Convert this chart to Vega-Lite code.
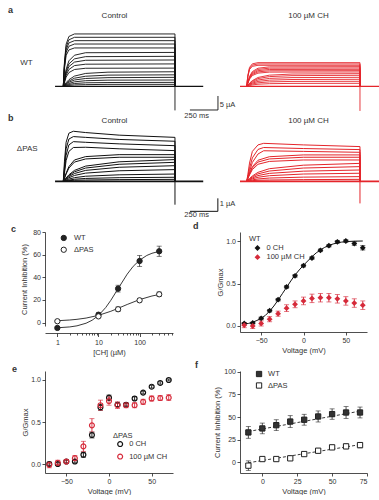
{
"$schema": "https://vega.github.io/schema/vega-lite/v6.json",
"padding": {"left": 8, "top": 5, "right": 0, "bottom": 0},
"background": "white",
"columns": 2,
"spacing": {"row": 0, "column": 67},
"align": {"row": "each", "column": "none"},
"bounds": "flush",
"resolve": {"scale": {"color": "independent", "fill": "independent", "stroke": "independent"}, "legend": {"color": "independent", "fill": "independent", "stroke": "independent"}},
"config": {
 "font": "Liberation Sans",
 "view": {"stroke": null},
 "axis": {"grid": false, "labelFontSize": 7, "titleFontSize": 7.5, "titleFontWeight": "normal", "labelColor": "#333", "titleColor": "#333", "domainColor": "#222", "tickColor": "#222", "tickSize": 3, "labelPadding": 1.5, "titlePadding": 2, "domainWidth": 0.8, "tickWidth": 0.8},
 "legend": {"labelFontSize": 7.5, "titleFontSize": 7.5, "titleFontWeight": "normal", "labelColor": "#333", "titleColor": "#333", "padding": 0},
 "title": {"fontSize": 9, "fontWeight": "bold", "anchor": "start", "frame": "group", "offset": 0, "color": "#333"}
},
"datasets": {
 "bk": [{"t":-74,"v":0},{"t":1253,"v":0}],
 "br": [{"t":-59,"v":0},{"t":1238,"v":0}],
 "ta": [
{"s":"k1","t":0,"v":0},{"s":"k1","t":10,"v":8.4},{"s":"k1","t":25,"v":15},{"s":"k1","t":50,"v":17.8},{"s":"k1","t":100,"v":18.7},{"s":"k1","t":1000,"v":18.7},{"s":"k1","t":1001,"v":0},
{"s":"k2","t":0,"v":0},{"s":"k2","t":10,"v":7.9},{"s":"k2","t":25,"v":14},{"s":"k2","t":50,"v":16.6},{"s":"k2","t":100,"v":17.5},{"s":"k2","t":1000,"v":17.5},{"s":"k2","t":1001,"v":0},
{"s":"k3","t":0,"v":0},{"s":"k3","t":10,"v":7.3},{"s":"k3","t":25,"v":13},{"s":"k3","t":50,"v":15.5},{"s":"k3","t":100,"v":16.3},{"s":"k3","t":1000,"v":16.3},{"s":"k3","t":1001,"v":0},
{"s":"k4","t":0,"v":0},{"s":"k4","t":10,"v":6.8},{"s":"k4","t":25,"v":12.1},{"s":"k4","t":50,"v":14.3},{"s":"k4","t":100,"v":15.1},{"s":"k4","t":1000,"v":15.1},{"s":"k4","t":1001,"v":0},
{"s":"k5","t":0,"v":0},{"s":"k5","t":10,"v":6.2},{"s":"k5","t":25,"v":11},{"s":"k5","t":50,"v":13},{"s":"k5","t":100,"v":13.7},{"s":"k5","t":1000,"v":13.7},{"s":"k5","t":1001,"v":0},
{"s":"k6","t":0,"v":0},{"s":"k6","t":10,"v":2.4},{"s":"k6","t":25,"v":6.05},{"s":"k6","t":50,"v":9.1},{"s":"k6","t":100,"v":11.1},{"s":"k6","t":200,"v":12},{"s":"k6","t":1000,"v":12.1},{"s":"k6","t":1001,"v":0},
{"s":"k7","t":0,"v":0},{"s":"k7","t":10,"v":2.1},{"s":"k7","t":25,"v":5.35},{"s":"k7","t":50,"v":8},{"s":"k7","t":100,"v":9.8},{"s":"k7","t":200,"v":10.6},{"s":"k7","t":1000,"v":10.7},{"s":"k7","t":1001,"v":0},
{"s":"k8","t":0,"v":0},{"s":"k8","t":10,"v":1.9},{"s":"k8","t":25,"v":4.7},{"s":"k8","t":50,"v":7.05},{"s":"k8","t":100,"v":8.65},{"s":"k8","t":200,"v":9.3},{"s":"k8","t":1000,"v":9.4},{"s":"k8","t":1001,"v":0},
{"s":"k9","t":0,"v":0},{"s":"k9","t":10,"v":1.6},{"s":"k9","t":25,"v":4},{"s":"k9","t":50,"v":6},{"s":"k9","t":100,"v":7.4},{"s":"k9","t":200,"v":7.9},{"s":"k9","t":1000,"v":8},{"s":"k9","t":1001,"v":0},
{"s":"k10","t":0,"v":0},{"s":"k10","t":10,"v":1.3},{"s":"k10","t":25,"v":3.25},{"s":"k10","t":50,"v":4.9},{"s":"k10","t":100,"v":6},{"s":"k10","t":200,"v":6.45},{"s":"k10","t":1000,"v":6.5},{"s":"k10","t":1001,"v":0},
{"s":"k11","t":0,"v":0},{"s":"k11","t":25,"v":1.3},{"s":"k11","t":50,"v":2.35},{"s":"k11","t":100,"v":3.65},{"s":"k11","t":200,"v":4.6},{"s":"k11","t":400,"v":5.05},{"s":"k11","t":1000,"v":5.2},{"s":"k11","t":1001,"v":0},
{"s":"k12","t":0,"v":0},{"s":"k12","t":25,"v":1},{"s":"k12","t":50,"v":1.85},{"s":"k12","t":100,"v":2.9},{"s":"k12","t":200,"v":3.6},{"s":"k12","t":400,"v":4},{"s":"k12","t":1000,"v":4.1},{"s":"k12","t":1001,"v":0},
{"s":"k13","t":0,"v":0},{"s":"k13","t":25,"v":0.8},{"s":"k13","t":50,"v":1.45},{"s":"k13","t":100,"v":2.25},{"s":"k13","t":200,"v":2.8},{"s":"k13","t":400,"v":3.1},{"s":"k13","t":1000,"v":3.2},{"s":"k13","t":1001,"v":0},
{"s":"k14","t":0,"v":0},{"s":"k14","t":25,"v":0.55},{"s":"k14","t":50,"v":1},{"s":"k14","t":100,"v":1.6},{"s":"k14","t":200,"v":2},{"s":"k14","t":400,"v":2.2},{"s":"k14","t":1000,"v":2.25},{"s":"k14","t":1001,"v":0},
{"s":"k15","t":0,"v":0},{"s":"k15","t":25,"v":0.35},{"s":"k15","t":50,"v":0.65},{"s":"k15","t":100,"v":1},{"s":"k15","t":200,"v":1.25},{"s":"k15","t":400,"v":1.35},{"s":"k15","t":1000,"v":1.4},{"s":"k15","t":1001,"v":0},
{"s":"k16","t":0,"v":0},{"s":"k16","t":25,"v":0.2},{"s":"k16","t":50,"v":0.3},{"s":"k16","t":100,"v":0.5},{"s":"k16","t":200,"v":0.6},{"s":"k16","t":400,"v":0.7},{"s":"k16","t":1000,"v":0.7},{"s":"k16","t":1001,"v":0}
 ],
 "tar": [
{"s":"r1","t":0,"v":0},{"s":"r1","t":10,"v":3.8},{"s":"r1","t":25,"v":6.76},{"s":"r1","t":50,"v":8.03},{"s":"r1","t":100,"v":8.45},{"s":"r1","t":1000,"v":8.45},{"s":"r1","t":1001,"v":0},
{"s":"r2","t":0,"v":0},{"s":"r2","t":10,"v":3.59},{"s":"r2","t":25,"v":6.38},{"s":"r2","t":50,"v":7.58},{"s":"r2","t":100,"v":7.98},{"s":"r2","t":1000,"v":7.98},{"s":"r2","t":1001,"v":0},
{"s":"r3","t":0,"v":0},{"s":"r3","t":10,"v":3.38},{"s":"r3","t":25,"v":6},{"s":"r3","t":50,"v":7.13},{"s":"r3","t":100,"v":7.5},{"s":"r3","t":1000,"v":7.5},{"s":"r3","t":1001,"v":0},
{"s":"r4","t":0,"v":0},{"s":"r4","t":10,"v":1.4},{"s":"r4","t":25,"v":3.51},{"s":"r4","t":50,"v":5.27},{"s":"r4","t":100,"v":6.46},{"s":"r4","t":200,"v":6.95},{"s":"r4","t":1000,"v":7.02},{"s":"r4","t":1001,"v":0},
{"s":"r5","t":0,"v":0},{"s":"r5","t":10,"v":1.31},{"s":"r5","t":25,"v":3.28},{"s":"r5","t":50,"v":4.91},{"s":"r5","t":100,"v":6.03},{"s":"r5","t":200,"v":6.48},{"s":"r5","t":1000,"v":6.55},{"s":"r5","t":1001,"v":0},
{"s":"r6","t":0,"v":0},{"s":"r6","t":10,"v":1.21},{"s":"r6","t":25,"v":3.04},{"s":"r6","t":50,"v":4.55},{"s":"r6","t":100,"v":5.58},{"s":"r6","t":200,"v":6.01},{"s":"r6","t":1000,"v":6.07},{"s":"r6","t":1001,"v":0},
{"s":"r7","t":0,"v":0},{"s":"r7","t":10,"v":1.12},{"s":"r7","t":25,"v":2.8},{"s":"r7","t":50,"v":4.2},{"s":"r7","t":100,"v":5.15},{"s":"r7","t":200,"v":5.54},{"s":"r7","t":1000,"v":5.6},{"s":"r7","t":1001,"v":0},
{"s":"r8","t":0,"v":0},{"s":"r8","t":10,"v":1.02},{"s":"r8","t":25,"v":2.56},{"s":"r8","t":50,"v":3.84},{"s":"r8","t":100,"v":4.71},{"s":"r8","t":200,"v":5.07},{"s":"r8","t":1000,"v":5.12},{"s":"r8","t":1001,"v":0},
{"s":"r9","t":0,"v":0},{"s":"r9","t":25,"v":1.13},{"s":"r9","t":50,"v":2.03},{"s":"r9","t":100,"v":3.16},{"s":"r9","t":200,"v":3.98},{"s":"r9","t":400,"v":4.38},{"s":"r9","t":1000,"v":4.52},{"s":"r9","t":1001,"v":0},
{"s":"r10","t":0,"v":0},{"s":"r10","t":25,"v":0.98},{"s":"r10","t":50,"v":1.77},{"s":"r10","t":100,"v":2.75},{"s":"r10","t":200,"v":3.46},{"s":"r10","t":400,"v":3.81},{"s":"r10","t":1000,"v":3.93},{"s":"r10","t":1001,"v":0},
{"s":"r11","t":0,"v":0},{"s":"r11","t":25,"v":0.8},{"s":"r11","t":50,"v":1.44},{"s":"r11","t":100,"v":2.25},{"s":"r11","t":200,"v":2.82},{"s":"r11","t":400,"v":3.11},{"s":"r11","t":1000,"v":3.21},{"s":"r11","t":1001,"v":0},
{"s":"r12","t":0,"v":0},{"s":"r12","t":25,"v":0.63},{"s":"r12","t":50,"v":1.13},{"s":"r12","t":100,"v":1.75},{"s":"r12","t":200,"v":2.2},{"s":"r12","t":400,"v":2.43},{"s":"r12","t":1000,"v":2.5},{"s":"r12","t":1001,"v":0},
{"s":"r13","t":0,"v":0},{"s":"r13","t":25,"v":0.45},{"s":"r13","t":50,"v":0.81},{"s":"r13","t":100,"v":1.25},{"s":"r13","t":200,"v":1.58},{"s":"r13","t":400,"v":1.74},{"s":"r13","t":1000,"v":1.79},{"s":"r13","t":1001,"v":0},
{"s":"r14","t":0,"v":0},{"s":"r14","t":25,"v":0.27},{"s":"r14","t":50,"v":0.48},{"s":"r14","t":100,"v":0.75},{"s":"r14","t":200,"v":0.94},{"s":"r14","t":400,"v":1.04},{"s":"r14","t":1000,"v":1.07},{"s":"r14","t":1001,"v":0}
 ],
 "tb": [
{"s":"b1","t":0,"v":0},{"s":"b1","t":10,"v":1.5},{"s":"b1","t":25,"v":3},{"s":"b1","t":50,"v":3.7},{"s":"b1","t":90,"v":3.85},{"s":"b1","t":200,"v":3.75},{"s":"b1","t":500,"v":3.55},{"s":"b1","t":1000,"v":3.38},{"s":"b1","t":1001,"v":0},
{"s":"b2","t":0,"v":0},{"s":"b2","t":10,"v":1.1},{"s":"b2","t":25,"v":2.5},{"s":"b2","t":50,"v":3.25},{"s":"b2","t":90,"v":3.44},{"s":"b2","t":200,"v":3.38},{"s":"b2","t":500,"v":3.22},{"s":"b2","t":1000,"v":3.08},{"s":"b2","t":1001,"v":0},
{"s":"b3","t":0,"v":0},{"s":"b3","t":10,"v":0.8},{"s":"b3","t":25,"v":2},{"s":"b3","t":50,"v":2.8},{"s":"b3","t":90,"v":3.05},{"s":"b3","t":200,"v":3},{"s":"b3","t":500,"v":2.88},{"s":"b3","t":1000,"v":2.74},{"s":"b3","t":1001,"v":0},
{"s":"b4","t":0,"v":0},{"s":"b4","t":10,"v":0.6},{"s":"b4","t":25,"v":1.6},{"s":"b4","t":50,"v":2.3},{"s":"b4","t":90,"v":2.6},{"s":"b4","t":200,"v":2.62},{"s":"b4","t":500,"v":2.5},{"s":"b4","t":1000,"v":2.36},{"s":"b4","t":1001,"v":0},
{"s":"b5","t":0,"v":0},{"s":"b5","t":25,"v":0.62},{"s":"b5","t":50,"v":1.13},{"s":"b5","t":100,"v":1.64},{"s":"b5","t":200,"v":1.9},{"s":"b5","t":500,"v":2.05},{"s":"b5","t":1000,"v":2.05},{"s":"b5","t":1001,"v":0},
{"s":"b6","t":0,"v":0},{"s":"b6","t":25,"v":0.56},{"s":"b6","t":50,"v":1.02},{"s":"b6","t":100,"v":1.48},{"s":"b6","t":200,"v":1.72},{"s":"b6","t":500,"v":1.85},{"s":"b6","t":1000,"v":1.85},{"s":"b6","t":1001,"v":0},
{"s":"b7","t":0,"v":0},{"s":"b7","t":25,"v":0.25},{"s":"b7","t":50,"v":0.5},{"s":"b7","t":100,"v":0.84},{"s":"b7","t":200,"v":1.17},{"s":"b7","t":500,"v":1.5},{"s":"b7","t":1000,"v":1.67},{"s":"b7","t":1001,"v":0},
{"s":"b8","t":0,"v":0},{"s":"b8","t":25,"v":0.22},{"s":"b8","t":50,"v":0.44},{"s":"b8","t":100,"v":0.73},{"s":"b8","t":200,"v":1.02},{"s":"b8","t":500,"v":1.31},{"s":"b8","t":1000,"v":1.46},{"s":"b8","t":1001,"v":0},
{"s":"b9","t":0,"v":0},{"s":"b9","t":25,"v":0.18},{"s":"b9","t":50,"v":0.36},{"s":"b9","t":100,"v":0.6},{"s":"b9","t":200,"v":0.84},{"s":"b9","t":500,"v":1.08},{"s":"b9","t":1000,"v":1.2},{"s":"b9","t":1001,"v":0},
{"s":"b10","t":0,"v":0},{"s":"b10","t":25,"v":0.14},{"s":"b10","t":50,"v":0.27},{"s":"b10","t":100,"v":0.45},{"s":"b10","t":200,"v":0.63},{"s":"b10","t":500,"v":0.81},{"s":"b10","t":1000,"v":0.9},{"s":"b10","t":1001,"v":0},
{"s":"b11","t":0,"v":0},{"s":"b11","t":25,"v":0.08},{"s":"b11","t":50,"v":0.17},{"s":"b11","t":100,"v":0.28},{"s":"b11","t":200,"v":0.39},{"s":"b11","t":500,"v":0.5},{"s":"b11","t":1000,"v":0.56},{"s":"b11","t":1001,"v":0},
{"s":"b12","t":0,"v":0},{"s":"b12","t":25,"v":0.05},{"s":"b12","t":50,"v":0.09},{"s":"b12","t":100,"v":0.16},{"s":"b12","t":200,"v":0.22},{"s":"b12","t":500,"v":0.28},{"s":"b12","t":1000,"v":0.31},{"s":"b12","t":1001,"v":0},
{"s":"b13","t":0,"v":0},{"s":"b13","t":25,"v":0.02},{"s":"b13","t":50,"v":0.05},{"s":"b13","t":100,"v":0.08},{"s":"b13","t":200,"v":0.1},{"s":"b13","t":500,"v":0.13},{"s":"b13","t":1000,"v":0.15},{"s":"b13","t":1001,"v":0}
 ],
 "tbr": [
{"s":"q1","t":0,"v":0},{"s":"q1","t":10,"v":0.5},{"s":"q1","t":25,"v":1.4},{"s":"q1","t":50,"v":2.3},{"s":"q1","t":100,"v":2.8},{"s":"q1","t":150,"v":2.92},{"s":"q1","t":500,"v":2.8},{"s":"q1","t":1000,"v":2.67},{"s":"q1","t":1001,"v":0},
{"s":"q2","t":0,"v":0},{"s":"q2","t":10,"v":0.35},{"s":"q2","t":25,"v":1},{"s":"q2","t":50,"v":1.8},{"s":"q2","t":100,"v":2.45},{"s":"q2","t":150,"v":2.6},{"s":"q2","t":500,"v":2.52},{"s":"q2","t":1000,"v":2.44},{"s":"q2","t":1001,"v":0},
{"s":"q3","t":0,"v":0},{"s":"q3","t":10,"v":0.25},{"s":"q3","t":25,"v":0.75},{"s":"q3","t":50,"v":1.45},{"s":"q3","t":100,"v":2.1},{"s":"q3","t":150,"v":2.35},{"s":"q3","t":500,"v":2.3},{"s":"q3","t":1000,"v":2.23},{"s":"q3","t":1001,"v":0},
{"s":"q4","t":0,"v":0},{"s":"q4","t":25,"v":0.61},{"s":"q4","t":50,"v":1.12},{"s":"q4","t":100,"v":1.62},{"s":"q4","t":200,"v":1.89},{"s":"q4","t":500,"v":2.03},{"s":"q4","t":1000,"v":2.03},{"s":"q4","t":1001,"v":0},
{"s":"q5","t":0,"v":0},{"s":"q5","t":25,"v":0.56},{"s":"q5","t":50,"v":1.02},{"s":"q5","t":100,"v":1.48},{"s":"q5","t":200,"v":1.72},{"s":"q5","t":500,"v":1.85},{"s":"q5","t":1000,"v":1.85},{"s":"q5","t":1001,"v":0},
{"s":"q6","t":0,"v":0},{"s":"q6","t":25,"v":0.49},{"s":"q6","t":50,"v":0.9},{"s":"q6","t":100,"v":1.31},{"s":"q6","t":200,"v":1.53},{"s":"q6","t":500,"v":1.64},{"s":"q6","t":1000,"v":1.64},{"s":"q6","t":1001,"v":0},
{"s":"q7","t":0,"v":0},{"s":"q7","t":25,"v":0.21},{"s":"q7","t":50,"v":0.41},{"s":"q7","t":100,"v":0.69},{"s":"q7","t":200,"v":0.97},{"s":"q7","t":500,"v":1.24},{"s":"q7","t":1000,"v":1.38},{"s":"q7","t":1001,"v":0},
{"s":"q8","t":0,"v":0},{"s":"q8","t":25,"v":0.17},{"s":"q8","t":50,"v":0.34},{"s":"q8","t":100,"v":0.57},{"s":"q8","t":200,"v":0.79},{"s":"q8","t":500,"v":1.02},{"s":"q8","t":1000,"v":1.13},{"s":"q8","t":1001,"v":0},
{"s":"q9","t":0,"v":0},{"s":"q9","t":25,"v":0.13},{"s":"q9","t":50,"v":0.26},{"s":"q9","t":100,"v":0.44},{"s":"q9","t":200,"v":0.61},{"s":"q9","t":500,"v":0.78},{"s":"q9","t":1000,"v":0.87},{"s":"q9","t":1001,"v":0},
{"s":"q10","t":0,"v":0},{"s":"q10","t":25,"v":0.09},{"s":"q10","t":50,"v":0.19},{"s":"q10","t":100,"v":0.31},{"s":"q10","t":200,"v":0.43},{"s":"q10","t":500,"v":0.56},{"s":"q10","t":1000,"v":0.62},{"s":"q10","t":1001,"v":0},
{"s":"q11","t":0,"v":0},{"s":"q11","t":25,"v":0.05},{"s":"q11","t":50,"v":0.11},{"s":"q11","t":100,"v":0.18},{"s":"q11","t":200,"v":0.25},{"s":"q11","t":500,"v":0.32},{"s":"q11","t":1000,"v":0.36},{"s":"q11","t":1001,"v":0},
{"s":"q12","t":0,"v":0},{"s":"q12","t":25,"v":0.02},{"s":"q12","t":50,"v":0.05},{"s":"q12","t":100,"v":0.08},{"s":"q12","t":200,"v":0.1},{"s":"q12","t":500,"v":0.13},{"s":"q12","t":1000,"v":0.15},{"s":"q12","t":1001,"v":0}
 ],
 "ra": [{"t":1000,"t2":1000,"v":0,"v2":-8.6},{"t":1134,"t2":1385,"v":-8.46,"v2":-8.46},{"t":1385,"t2":1385,"v":-8.46,"v2":-3.46}],
 "rar": [{"t":1000,"t2":1000,"v":0,"v2":-8.8}],
 "rb": [{"t":1000,"t2":1000,"v":0,"v2":-1.8},{"t":1134,"t2":1384,"v":-2.31,"v2":-2.31},{"t":1384,"t2":1384,"v":-2.31,"v2":-1.31}],
 "rbr": [{"t":1000,"t2":1000,"v":0,"v2":-1.7}],
 "la": [{"t":1470,"v":-6.7,"txt":"5 µA"},{"t":1194,"v":-10.7,"txt":"250 ms"}],
 "lb": [{"t":1470,"v":-1.75,"txt":"1 µA"},{"t":1194,"v":-2.57,"txt":"250 ms"}],
 "cfit": [
{"g":"WT","c":1,"y":-4.58},{"g":"WT","c":2,"y":-3.82},{"g":"WT","c":3,"y":-2.85},{"g":"WT","c":5,"y":-0.54},{"g":"WT","c":7,"y":2.09},{"g":"WT","c":10,"y":6.3},{"g":"WT","c":15,"y":13.3},{"g":"WT","c":20,"y":19.7},{"g":"WT","c":30,"y":30},{"g":"WT","c":50,"y":42.8},{"g":"WT","c":70,"y":49.7},{"g":"WT","c":100,"y":55.1},{"g":"WT","c":150,"y":59.3},{"g":"WT","c":200,"y":61.2},{"g":"WT","c":300,"y":62.9},
{"g":"ΔPAS","c":1,"y":1.66},{"g":"ΔPAS","c":2,"y":2.29},{"g":"ΔPAS","c":3,"y":2.9},{"g":"ΔPAS","c":5,"y":4},{"g":"ΔPAS","c":10,"y":6.4},{"g":"ΔPAS","c":20,"y":10},{"g":"ΔPAS","c":30,"y":12.6},{"g":"ΔPAS","c":50,"y":16},{"g":"ΔPAS","c":100,"y":20.3},{"g":"ΔPAS","c":200,"y":23.5},{"g":"ΔPAS","c":300,"y":24.8}
 ],
 "cpts": [
{"g":"WT","c":1,"y":-4.7,"lo":-6,"hi":-3.4},{"g":"WT","c":10,"y":7,"lo":5.5,"hi":8.5},{"g":"WT","c":30,"y":30,"lo":27,"hi":33},{"g":"WT","c":100,"y":54.4,"lo":49.5,"hi":59.3},{"g":"WT","c":300,"y":63,"lo":58.5,"hi":67.5},
{"g":"ΔPAS","c":1,"y":1.2,"lo":0.4,"hi":2},{"g":"ΔPAS","c":10,"y":5.5,"lo":4.5,"hi":6.5},{"g":"ΔPAS","c":30,"y":11.8,"lo":9.8,"hi":13.8},{"g":"ΔPAS","c":100,"y":19.7,"lo":18.2,"hi":21.2},{"g":"ΔPAS","c":300,"y":25,"lo":23,"hi":27}
 ],
 "dfit": [
{"v":-72,"y":0.022},{"v":-65,"y":0.03},{"v":-60,"y":0.045},{"v":-55,"y":0.065},{"v":-50,"y":0.09},{"v":-45,"y":0.125},{"v":-40,"y":0.175},{"v":-35,"y":0.235},{"v":-30,"y":0.305},{"v":-25,"y":0.38},{"v":-20,"y":0.455},{"v":-15,"y":0.53},{"v":-10,"y":0.6},{"v":-5,"y":0.66},{"v":0,"y":0.715},{"v":5,"y":0.765},{"v":10,"y":0.815},{"v":15,"y":0.86},{"v":20,"y":0.895},{"v":25,"y":0.925},{"v":30,"y":0.948},{"v":35,"y":0.965},{"v":40,"y":0.978},{"v":45,"y":0.987},{"v":50,"y":0.993},{"v":60,"y":0.998},{"v":70,"y":1}
 ],
 "dpts": [
{"g":"0 CH","v":-70,"y":0.03,"lo":0.02,"hi":0.04},{"g":"0 CH","v":-60,"y":0.035,"lo":0.025,"hi":0.045},{"g":"0 CH","v":-50,"y":0.09,"lo":0.075,"hi":0.105},{"g":"0 CH","v":-40,"y":0.18,"lo":0.165,"hi":0.195},{"g":"0 CH","v":-30,"y":0.31,"lo":0.295,"hi":0.325},{"g":"0 CH","v":-20,"y":0.46,"lo":0.445,"hi":0.475},{"g":"0 CH","v":-10,"y":0.59,"lo":0.575,"hi":0.605},{"g":"0 CH","v":0,"y":0.71,"lo":0.695,"hi":0.725},{"g":"0 CH","v":10,"y":0.8,"lo":0.785,"hi":0.815},{"g":"0 CH","v":20,"y":0.89,"lo":0.875,"hi":0.905},{"g":"0 CH","v":30,"y":0.945,"lo":0.93,"hi":0.96},{"g":"0 CH","v":40,"y":0.99,"lo":0.975,"hi":1.005},{"g":"0 CH","v":50,"y":1,"lo":0.985,"hi":1.015},{"g":"0 CH","v":60,"y":0.97,"lo":0.95,"hi":0.99},{"g":"0 CH","v":70,"y":0.92,"lo":0.895,"hi":0.945},
{"g":"100 µM CH","v":-70,"y":0.01,"lo":-0.02,"hi":0.04},{"g":"100 µM CH","v":-60,"y":0,"lo":-0.03,"hi":0.03},{"g":"100 µM CH","v":-50,"y":0.03,"lo":0,"hi":0.06},{"g":"100 µM CH","v":-40,"y":0.08,"lo":0.05,"hi":0.11},{"g":"100 µM CH","v":-30,"y":0.145,"lo":0.115,"hi":0.175},{"g":"100 µM CH","v":-20,"y":0.21,"lo":0.17,"hi":0.25},{"g":"100 µM CH","v":-10,"y":0.255,"lo":0.215,"hi":0.295},{"g":"100 µM CH","v":0,"y":0.295,"lo":0.25,"hi":0.34},{"g":"100 µM CH","v":10,"y":0.325,"lo":0.275,"hi":0.375},{"g":"100 µM CH","v":20,"y":0.333,"lo":0.283,"hi":0.383},{"g":"100 µM CH","v":30,"y":0.333,"lo":0.283,"hi":0.383},{"g":"100 µM CH","v":40,"y":0.32,"lo":0.27,"hi":0.37},{"g":"100 µM CH","v":50,"y":0.295,"lo":0.245,"hi":0.345},{"g":"100 µM CH","v":60,"y":0.27,"lo":0.22,"hi":0.32},{"g":"100 µM CH","v":70,"y":0.245,"lo":0.195,"hi":0.295}
 ],
 "epts": [
{"g":"0 CH","v":-70,"y":0,"lo":-0.015,"hi":0.015},{"g":"0 CH","v":-60,"y":0,"lo":-0.015,"hi":0.015},{"g":"0 CH","v":-50,"y":0.03,"lo":0.015,"hi":0.045},{"g":"0 CH","v":-40,"y":0.03,"lo":0.015,"hi":0.045},{"g":"0 CH","v":-30,"y":0.11,"lo":0.08,"hi":0.14},{"g":"0 CH","v":-20,"y":0.345,"lo":0.31,"hi":0.38},{"g":"0 CH","v":-10,"y":0.675,"lo":0.64,"hi":0.71},{"g":"0 CH","v":0,"y":0.79,"lo":0.76,"hi":0.82},{"g":"0 CH","v":10,"y":0.705,"lo":0.685,"hi":0.725},{"g":"0 CH","v":20,"y":0.705,"lo":0.69,"hi":0.72},{"g":"0 CH","v":30,"y":0.78,"lo":0.76,"hi":0.8},{"g":"0 CH","v":40,"y":0.85,"lo":0.835,"hi":0.865},{"g":"0 CH","v":50,"y":0.92,"lo":0.905,"hi":0.935},{"g":"0 CH","v":60,"y":0.965,"lo":0.95,"hi":0.98},{"g":"0 CH","v":70,"y":1,"lo":0.99,"hi":1.01},
{"g":"100 µM CH","v":-70,"y":-0.01,"lo":-0.045,"hi":0.025},{"g":"100 µM CH","v":-60,"y":0.015,"lo":-0.015,"hi":0.045},{"g":"100 µM CH","v":-50,"y":0.03,"lo":0.01,"hi":0.05},{"g":"100 µM CH","v":-40,"y":0.07,"lo":0.04,"hi":0.1},{"g":"100 µM CH","v":-30,"y":0.21,"lo":0.15,"hi":0.27},{"g":"100 µM CH","v":-20,"y":0.46,"lo":0.38,"hi":0.54},{"g":"100 µM CH","v":-10,"y":0.7,"lo":0.64,"hi":0.76},{"g":"100 µM CH","v":0,"y":0.75,"lo":0.7,"hi":0.8},{"g":"100 µM CH","v":10,"y":0.7,"lo":0.66,"hi":0.74},{"g":"100 µM CH","v":20,"y":0.7,"lo":0.67,"hi":0.73},{"g":"100 µM CH","v":30,"y":0.7,"lo":0.67,"hi":0.73},{"g":"100 µM CH","v":40,"y":0.74,"lo":0.71,"hi":0.77},{"g":"100 µM CH","v":50,"y":0.78,"lo":0.75,"hi":0.81},{"g":"100 µM CH","v":60,"y":0.785,"lo":0.755,"hi":0.815},{"g":"100 µM CH","v":70,"y":0.79,"lo":0.755,"hi":0.825}
 ],
 "ffit": [{"g":"WT","v":-10,"y":34},{"g":"WT","v":70,"y":56.5},{"g":"ΔPAS","v":-10,"y":-0.5},{"g":"ΔPAS","v":70,"y":19.5}],
 "fpts": [
{"g":"WT","v":-10,"y":33,"lo":26.5,"hi":39.5},{"g":"WT","v":0,"y":37.4,"lo":31.5,"hi":43.3},{"g":"WT","v":10,"y":41,"lo":35,"hi":47},{"g":"WT","v":20,"y":45,"lo":38.5,"hi":51.5},{"g":"WT","v":30,"y":47,"lo":41,"hi":53},{"g":"WT","v":40,"y":50.6,"lo":44.5,"hi":56.7},{"g":"WT","v":50,"y":53.2,"lo":47.5,"hi":59},{"g":"WT","v":60,"y":55,"lo":48.5,"hi":61.5},{"g":"WT","v":70,"y":55,"lo":49,"hi":61},
{"g":"ΔPAS","v":-10,"y":-3.7,"lo":-9,"hi":1.6},{"g":"ΔPAS","v":0,"y":3.6,"lo":1.5,"hi":5.7},{"g":"ΔPAS","v":10,"y":3.6,"lo":1.8,"hi":5.4},{"g":"ΔPAS","v":20,"y":4.4,"lo":2.5,"hi":6.3},{"g":"ΔPAS","v":30,"y":9.1,"lo":7,"hi":11.2},{"g":"ΔPAS","v":40,"y":12.8,"lo":10.5,"hi":15.1},{"g":"ΔPAS","v":50,"y":16.5,"lo":14,"hi":19},{"g":"ΔPAS","v":60,"y":17.6,"lo":15,"hi":20.2},{"g":"ΔPAS","v":70,"y":19,"lo":16,"hi":22}
 ]
},
"concat": [
 {
  "width": 113, "height": 95,
  "title": {"text": "a", "dx": -37, "dy": 7.6},
  "encoding": {
   "x": {"field": "t", "type": "quantitative", "scale": {"domain": [-164, 848], "nice": false, "zero": false}, "axis": {"orient": "top", "title": "Control", "titleX": 69, "titleY": -4, "titleAlign": "center", "titleBaseline": "middle", "titleAngle": 0, "titleFontSize": 8, "labels": false, "ticks": false, "domain": false}},
   "y": {"field": "v", "type": "quantitative", "scale": {"domain": [-9.89, 24.04], "nice": false, "zero": false}, "axis": {"title": "WT", "titleX": -19, "titleY": 43, "titleAlign": "center", "titleBaseline": "middle", "titleAngle": 0, "titleFontSize": 8, "labels": false, "ticks": false, "domain": false}}
  },
  "layer": [
   {"data": {"name": "bk"}, "mark": {"type": "line", "color": "#111", "strokeWidth": 1.2}, "encoding": {}},
   {"data": {"name": "ta"}, "mark": {"type": "line", "color": "#111", "strokeWidth": 0.9}, "encoding": {"detail": {"field": "s"}}},
   {"data": {"name": "ra"}, "mark": {"type": "rule", "color": "#111", "strokeWidth": 0.9}, "encoding": {"x2": {"field": "t2"}, "y2": {"field": "v2"}}},
   {"data": {"name": "la"}, "mark": {"type": "text", "fontSize": 7.5, "color": "#333"}, "encoding": {"text": {"field": "txt"}}}
  ]
 },
 {
  "width": 150, "height": 95,
  "encoding": {
   "x": {"field": "t", "type": "quantitative", "scale": {"domain": [-59, 1265], "nice": false, "zero": false}, "axis": {"orient": "top", "title": "100 µM CH", "titleX": 68, "titleY": -4, "titleAlign": "center", "titleBaseline": "middle", "titleAngle": 0, "titleFontSize": 8, "labels": false, "ticks": false, "domain": false}},
   "y": {"field": "v", "type": "quantitative", "scale": {"domain": [-9.89, 24.04], "nice": false, "zero": false}, "axis": null}
  },
  "layer": [
   {"data": {"name": "br"}, "mark": {"type": "line", "color": "#e4252b", "strokeWidth": 1.2}, "encoding": {}},
   {"data": {"name": "tar"}, "mark": {"type": "line", "color": "#e4252b", "strokeWidth": 0.9}, "encoding": {"detail": {"field": "s"}}},
   {"data": {"name": "rar"}, "mark": {"type": "rule", "color": "#e4252b", "strokeWidth": 0.9}, "encoding": {"x2": {"field": "t2"}, "y2": {"field": "v2"}}}
  ]
 },
 {
  "width": 113, "height": 118,
  "title": {"text": "b", "dx": -37, "dy": 12.5},
  "encoding": {
   "x": {"field": "t", "type": "quantitative", "scale": {"domain": [-164, 848], "nice": false, "zero": false}, "axis": {"orient": "top", "title": "Control", "titleX": 69, "titleY": 6.7, "titleAlign": "center", "titleBaseline": "middle", "titleAngle": 0, "titleFontSize": 8, "labels": false, "ticks": false, "domain": false}},
   "y": {"field": "v", "type": "quantitative", "scale": {"domain": [-3.9, 5.177], "nice": false, "zero": false}, "axis": {"title": "ΔPAS", "titleX": -18.3, "titleY": 34.3, "titleAlign": "center", "titleBaseline": "middle", "titleAngle": 0, "titleFontSize": 8, "labels": false, "ticks": false, "domain": false}}
  },
  "layer": [
   {"data": {"name": "bk"}, "mark": {"type": "line", "color": "#111", "strokeWidth": 1.8}, "encoding": {}},
   {"data": {"name": "tb"}, "mark": {"type": "line", "color": "#111", "strokeWidth": 1}, "encoding": {"detail": {"field": "s"}}},
   {"data": {"name": "rb"}, "mark": {"type": "rule", "color": "#111", "strokeWidth": 1}, "encoding": {"x2": {"field": "t2"}, "y2": {"field": "v2"}}},
   {"data": {"name": "lb"}, "mark": {"type": "text", "fontSize": 7.5, "color": "#333"}, "encoding": {"text": {"field": "txt"}}}
  ]
 },
 {
  "width": 150, "height": 118,
  "encoding": {
   "x": {"field": "t", "type": "quantitative", "scale": {"domain": [-59, 1265], "nice": false, "zero": false}, "axis": {"orient": "top", "title": "100 µM CH", "titleX": 68, "titleY": 6.7, "titleAlign": "center", "titleBaseline": "middle", "titleAngle": 0, "titleFontSize": 8, "labels": false, "ticks": false, "domain": false}},
   "y": {"field": "v", "type": "quantitative", "scale": {"domain": [-3.9, 5.177], "nice": false, "zero": false}, "axis": null}
  },
  "layer": [
   {"data": {"name": "br"}, "mark": {"type": "line", "color": "#e4252b", "strokeWidth": 1.8}, "encoding": {}},
   {"data": {"name": "tbr"}, "mark": {"type": "line", "color": "#e4252b", "strokeWidth": 1}, "encoding": {"detail": {"field": "s"}}},
   {"data": {"name": "rbr"}, "mark": {"type": "rule", "color": "#e4252b", "strokeWidth": 1}, "encoding": {"x2": {"field": "t2"}, "y2": {"field": "v2"}}}
  ]
 },
 {
  "width": 128, "height": 94,
  "title": {"text": "c", "dx": -34, "dy": 10},
  "encoding": {
   "x": {"field": "c", "type": "quantitative", "scale": {"type": "log", "domain": [0.5, 650], "nice": false}, "axis": {"title": "[CH] (µM)", "values": [1,2,3,4,5,6,7,8,9,10,20,30,40,50,60,70,80,90,100,200,300,400,500,600], "labelExpr": "datum.value == 1 || datum.value == 10 || datum.value == 100 ? format(datum.value, 'd') : ''", "tickSize": {"condition": {"test": "datum.value == 1 || datum.value == 10 || datum.value == 100", "value": 3.5}, "value": 2}, "offset": 7, "labelPadding": 1.5, "titlePadding": 3}}
  },
  "layer": [
   {"data": {"name": "cfit"}, "mark": {"type": "line", "color": "#222", "strokeWidth": 0.9}, "encoding": {"y": {"field": "y", "type": "quantitative", "scale": {"domain": [-3, 80], "nice": false, "zero": false}, "axis": {"title": "Current Inhibition (%)", "values": [0,20,40,60,80], "titlePadding": 4}}, "detail": {"field": "g"}}},
   {"data": {"name": "cpts"}, "mark": {"type": "rule", "color": "#222", "strokeWidth": 0.8}, "encoding": {"y": {"field": "lo", "type": "quantitative", "scale": {"domain": [-3, 80], "nice": false, "zero": false}, "axis": {"title": "Current Inhibition (%)", "values": [0,20,40,60,80], "titlePadding": 4}}, "y2": {"field": "hi"}}},
   {"data": {"name": "cpts"}, "mark": {"type": "tick", "orient": "horizontal", "size": 5, "thickness": 0.8, "color": "#222"}, "encoding": {"y": {"field": "hi", "type": "quantitative", "scale": {"domain": [-3, 80], "nice": false, "zero": false}, "axis": {"title": "Current Inhibition (%)", "values": [0,20,40,60,80], "titlePadding": 4}}}},
   {"data": {"name": "cpts"}, "mark": {"type": "tick", "orient": "horizontal", "size": 5, "thickness": 0.8, "color": "#222"}, "encoding": {"y": {"field": "lo", "type": "quantitative", "scale": {"domain": [-3, 80], "nice": false, "zero": false}, "axis": {"title": "Current Inhibition (%)", "values": [0,20,40,60,80], "titlePadding": 4}}}},
   {"data": {"name": "cpts"}, "mark": {"type": "point", "filled": true, "size": 28, "stroke": "#222", "strokeWidth": 1, "opacity": 1}, "encoding": {"y": {"field": "y", "type": "quantitative", "scale": {"domain": [-3, 80], "nice": false, "zero": false}, "axis": {"title": "Current Inhibition (%)", "values": [0,20,40,60,80], "titlePadding": 4}}, "fill": {"field": "g", "type": "nominal", "scale": {"domain": ["WT", "ΔPAS"], "range": ["#222", "#ffffff"]}, "legend": {"orient": "none", "legendX": 15, "legendY": 2.2, "title": null, "symbolType": "circle", "symbolSize": 28, "symbolStrokeColor": "#222", "symbolStrokeWidth": 1, "rowPadding": 1.8, "labelOffset": 6.5}}}}
  ]
 },
 {
  "width": 127, "height": 100,
  "title": {"text": "d", "dx": -47, "dy": 2.5},
  "encoding": {
   "x": {"field": "v", "type": "quantitative", "scale": {"domain": [-75, 75], "nice": false, "zero": false}, "axis": {"title": "Voltage (mV)", "values": [-50, 0, 50], "titlePadding": 3}}
  },
  "layer": [
   {"data": {"name": "dfit"}, "mark": {"type": "line", "color": "#111", "strokeWidth": 1}, "encoding": {"y": {"field": "y", "type": "quantitative", "scale": {"domain": [-0.0706, 1.106], "nice": false, "zero": false}, "axis": {"title": "G/Gmax", "values": [0, 0.5, 1], "format": ".1f", "titlePadding": 1}}}},
   {"data": {"name": "dpts"}, "transform": [{"filter": "datum.g == '0 CH'"}], "mark": {"type": "rule", "strokeWidth": 0.9, "color": "#111"}, "encoding": {"y": {"field": "lo", "type": "quantitative", "scale": {"domain": [-0.0706, 1.106], "nice": false, "zero": false}, "axis": {"title": "G/Gmax", "values": [0, 0.5, 1], "format": ".1f", "titlePadding": 1}}, "y2": {"field": "hi"}}},
   {"data": {"name": "dpts"}, "transform": [{"filter": "datum.g != '0 CH'"}], "mark": {"type": "rule", "strokeWidth": 0.9, "color": "#d62a3a"}, "encoding": {"y": {"field": "lo", "type": "quantitative", "scale": {"domain": [-0.0706, 1.106], "nice": false, "zero": false}, "axis": {"title": "G/Gmax", "values": [0, 0.5, 1], "format": ".1f", "titlePadding": 1}}, "y2": {"field": "hi"}}},
   {"data": {"name": "dpts"}, "transform": [{"filter": "datum.g == '0 CH'"}], "mark": {"type": "tick", "orient": "horizontal", "size": 5, "thickness": 0.9, "color": "#111"}, "encoding": {"y": {"field": "hi", "type": "quantitative", "scale": {"domain": [-0.0706, 1.106], "nice": false, "zero": false}, "axis": {"title": "G/Gmax", "values": [0, 0.5, 1], "format": ".1f", "titlePadding": 1}}}},
   {"data": {"name": "dpts"}, "transform": [{"filter": "datum.g == '0 CH'"}], "mark": {"type": "tick", "orient": "horizontal", "size": 5, "thickness": 0.9, "color": "#111"}, "encoding": {"y": {"field": "lo", "type": "quantitative", "scale": {"domain": [-0.0706, 1.106], "nice": false, "zero": false}, "axis": {"title": "G/Gmax", "values": [0, 0.5, 1], "format": ".1f", "titlePadding": 1}}}},
   {"data": {"name": "dpts"}, "transform": [{"filter": "datum.g != '0 CH'"}], "mark": {"type": "tick", "orient": "horizontal", "size": 5, "thickness": 0.9, "color": "#d62a3a"}, "encoding": {"y": {"field": "hi", "type": "quantitative", "scale": {"domain": [-0.0706, 1.106], "nice": false, "zero": false}, "axis": {"title": "G/Gmax", "values": [0, 0.5, 1], "format": ".1f", "titlePadding": 1}}}},
   {"data": {"name": "dpts"}, "transform": [{"filter": "datum.g != '0 CH'"}], "mark": {"type": "tick", "orient": "horizontal", "size": 5, "thickness": 0.9, "color": "#d62a3a"}, "encoding": {"y": {"field": "lo", "type": "quantitative", "scale": {"domain": [-0.0706, 1.106], "nice": false, "zero": false}, "axis": {"title": "G/Gmax", "values": [0, 0.5, 1], "format": ".1f", "titlePadding": 1}}}},
   {"data": {"name": "dpts"}, "mark": {"type": "point", "filled": true, "shape": "diamond", "size": 34, "opacity": 1}, "encoding": {"y": {"field": "y", "type": "quantitative", "scale": {"domain": [-0.0706, 1.106], "nice": false, "zero": false}, "axis": {"title": "G/Gmax", "values": [0, 0.5, 1], "format": ".1f", "titlePadding": 1}}, "color": {"field": "g", "type": "nominal", "scale": {"domain": ["0 CH", "100 µM CH"], "range": ["#111", "#d62a3a"]}, "legend": {"orient": "none", "legendX": 9, "legendY": 3, "title": "WT", "titlePadding": 1.5, "symbolType": "diamond", "symbolSize": 34, "symbolOffset": 4.5, "labelOffset": 5, "rowPadding": 1.2}}}}
  ]
 },
 {"width": 10, "height": 39, "data": {"values": [{"a": 1}]}, "mark": {"type": "point", "opacity": 0}},
 {"width": 10, "height": 39, "data": {"values": [{"a": 1}]}, "mark": {"type": "point", "opacity": 0}},
 {
  "width": 128, "height": 102,
  "title": {"text": "e", "dx": -33, "dy": 6.6},
  "encoding": {
   "x": {"field": "v", "type": "quantitative", "scale": {"domain": [-75, 75], "nice": false, "zero": false}, "axis": {"title": "Voltage (mV)", "values": [-50, 0, 50], "titlePadding": 3}}
  },
  "layer": [
   {"data": {"name": "epts"}, "transform": [{"filter": "datum.g == '0 CH'"}], "mark": {"type": "rule", "strokeWidth": 0.9, "color": "#111"}, "encoding": {"y": {"field": "lo", "type": "quantitative", "scale": {"domain": [-0.107, 1.107], "nice": false, "zero": false}, "axis": {"title": "G/Gmax", "values": [0, 0.5, 1], "format": ".1f", "titlePadding": 1}}, "y2": {"field": "hi"}}},
   {"data": {"name": "epts"}, "transform": [{"filter": "datum.g != '0 CH'"}], "mark": {"type": "rule", "strokeWidth": 0.9, "color": "#d62a3a"}, "encoding": {"y": {"field": "lo", "type": "quantitative", "scale": {"domain": [-0.107, 1.107], "nice": false, "zero": false}, "axis": {"title": "G/Gmax", "values": [0, 0.5, 1], "format": ".1f", "titlePadding": 1}}, "y2": {"field": "hi"}}},
   {"data": {"name": "epts"}, "transform": [{"filter": "datum.g == '0 CH'"}], "mark": {"type": "tick", "orient": "horizontal", "size": 5, "thickness": 0.9, "color": "#111"}, "encoding": {"y": {"field": "hi", "type": "quantitative", "scale": {"domain": [-0.107, 1.107], "nice": false, "zero": false}, "axis": {"title": "G/Gmax", "values": [0, 0.5, 1], "format": ".1f", "titlePadding": 1}}}},
   {"data": {"name": "epts"}, "transform": [{"filter": "datum.g == '0 CH'"}], "mark": {"type": "tick", "orient": "horizontal", "size": 5, "thickness": 0.9, "color": "#111"}, "encoding": {"y": {"field": "lo", "type": "quantitative", "scale": {"domain": [-0.107, 1.107], "nice": false, "zero": false}, "axis": {"title": "G/Gmax", "values": [0, 0.5, 1], "format": ".1f", "titlePadding": 1}}}},
   {"data": {"name": "epts"}, "transform": [{"filter": "datum.g != '0 CH'"}], "mark": {"type": "tick", "orient": "horizontal", "size": 5, "thickness": 0.9, "color": "#d62a3a"}, "encoding": {"y": {"field": "hi", "type": "quantitative", "scale": {"domain": [-0.107, 1.107], "nice": false, "zero": false}, "axis": {"title": "G/Gmax", "values": [0, 0.5, 1], "format": ".1f", "titlePadding": 1}}}},
   {"data": {"name": "epts"}, "transform": [{"filter": "datum.g != '0 CH'"}], "mark": {"type": "tick", "orient": "horizontal", "size": 5, "thickness": 0.9, "color": "#d62a3a"}, "encoding": {"y": {"field": "lo", "type": "quantitative", "scale": {"domain": [-0.107, 1.107], "nice": false, "zero": false}, "axis": {"title": "G/Gmax", "values": [0, 0.5, 1], "format": ".1f", "titlePadding": 1}}}},
   {"data": {"name": "epts"}, "mark": {"type": "point", "filled": false, "shape": "circle", "size": 24, "strokeWidth": 1.2, "opacity": 1}, "encoding": {"y": {"field": "y", "type": "quantitative", "scale": {"domain": [-0.107, 1.107], "nice": false, "zero": false}, "axis": {"title": "G/Gmax", "values": [0, 0.5, 1], "format": ".1f", "titlePadding": 1}}, "color": {"field": "g", "type": "nominal", "scale": {"domain": ["0 CH", "100 µM CH"], "range": ["#111", "#d62a3a"]}, "legend": {"orient": "none", "legendX": 68, "legendY": 61, "title": "ΔPAS", "titlePadding": 0.8, "symbolType": "circle", "symbolSize": 24, "symbolStrokeWidth": 1.2, "symbolOffset": 3.4, "labelOffset": 5.3, "rowPadding": 1.5}}}}
  ]
 },
 {
  "width": 127, "height": 102,
  "title": {"text": "f", "dx": -45, "dy": 6},
  "encoding": {
   "x": {"field": "v", "type": "quantitative", "scale": {"domain": [-16, 75], "nice": false, "zero": false}, "axis": {"title": "Voltage (mV)", "values": [0, 25, 50, 75], "titlePadding": 3}}
  },
  "layer": [
   {"data": {"name": "ffit"}, "mark": {"type": "line", "color": "#222", "strokeWidth": 0.9, "strokeDash": [3, 2]}, "encoding": {"y": {"field": "y", "type": "quantitative", "scale": {"domain": [-11.8, 100.8], "nice": false, "zero": false}, "axis": {"title": "Current Inhibition (%)", "values": [0, 25, 50, 75, 100], "titlePadding": 2}}, "detail": {"field": "g"}}},
   {"data": {"name": "fpts"}, "mark": {"type": "rule", "color": "#222", "strokeWidth": 0.8}, "encoding": {"y": {"field": "lo", "type": "quantitative", "scale": {"domain": [-11.8, 100.8], "nice": false, "zero": false}, "axis": {"title": "Current Inhibition (%)", "values": [0, 25, 50, 75, 100], "titlePadding": 2}}, "y2": {"field": "hi"}}},
   {"data": {"name": "fpts"}, "mark": {"type": "tick", "orient": "horizontal", "size": 5, "thickness": 0.8, "color": "#222"}, "encoding": {"y": {"field": "hi", "type": "quantitative", "scale": {"domain": [-11.8, 100.8], "nice": false, "zero": false}, "axis": {"title": "Current Inhibition (%)", "values": [0, 25, 50, 75, 100], "titlePadding": 2}}}},
   {"data": {"name": "fpts"}, "mark": {"type": "tick", "orient": "horizontal", "size": 5, "thickness": 0.8, "color": "#222"}, "encoding": {"y": {"field": "lo", "type": "quantitative", "scale": {"domain": [-11.8, 100.8], "nice": false, "zero": false}, "axis": {"title": "Current Inhibition (%)", "values": [0, 25, 50, 75, 100], "titlePadding": 2}}}},
   {"data": {"name": "fpts"}, "mark": {"type": "point", "filled": true, "shape": "square", "size": 28, "stroke": "#222", "strokeWidth": 1, "opacity": 1}, "encoding": {"y": {"field": "y", "type": "quantitative", "scale": {"domain": [-11.8, 100.8], "nice": false, "zero": false}, "axis": {"title": "Current Inhibition (%)", "values": [0, 25, 50, 75, 100], "titlePadding": 2}}, "fill": {"field": "g", "type": "nominal", "scale": {"domain": ["WT", "ΔPAS"], "range": ["#333", "#ffffff"]}, "legend": {"orient": "none", "legendX": 15.3, "legendY": -0.75, "title": null, "symbolType": "square", "symbolSize": 28, "symbolStrokeColor": "#222", "symbolStrokeWidth": 1, "rowPadding": 1.5, "labelOffset": 5.3}}}}
  ]
 }
]
}
